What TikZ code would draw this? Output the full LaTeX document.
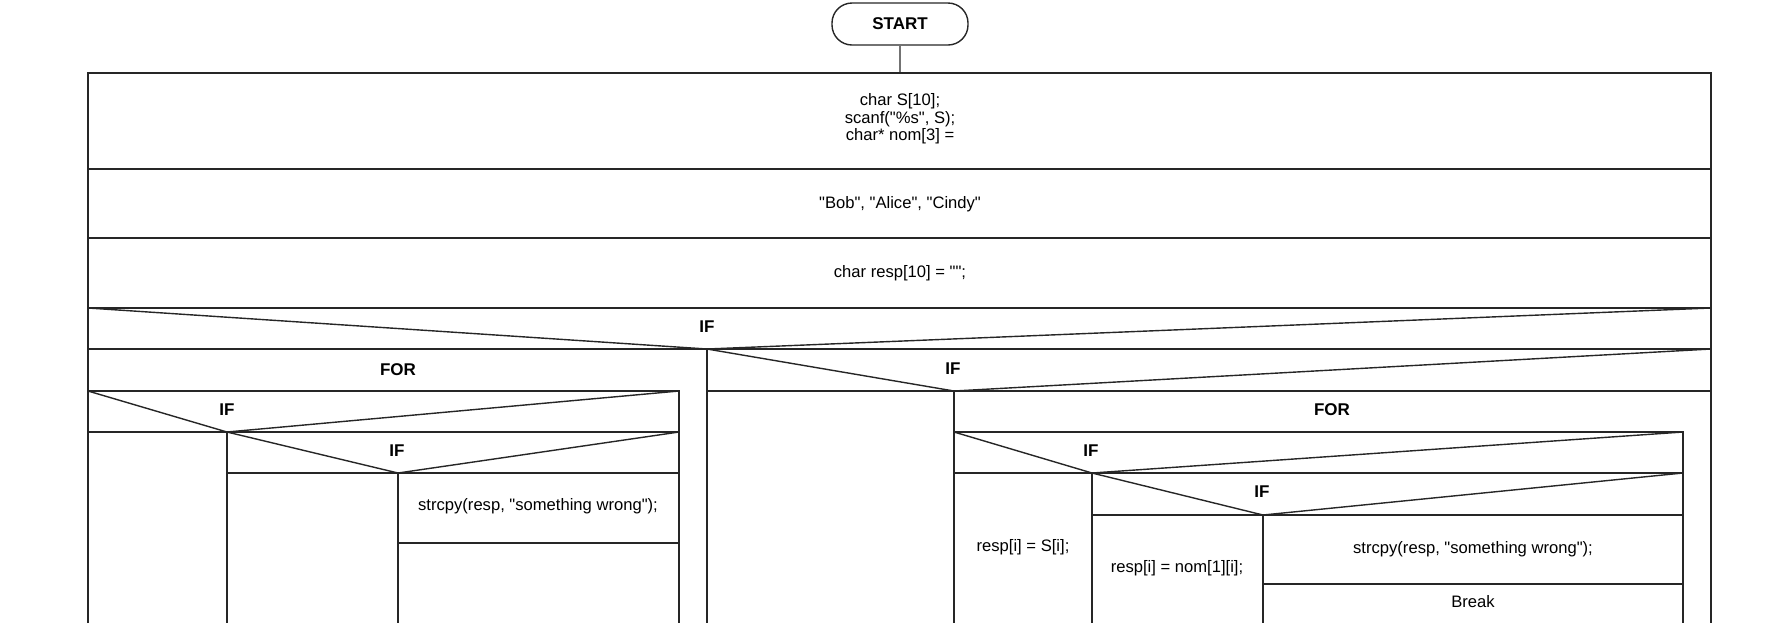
\documentclass[tikz,border=0pt]{standalone}
\usepackage{fontspec}
\setmainfont{Liberation Sans}[Ligatures=TeXOff]
\begin{document}
\begin{tikzpicture}[x=0.5pt, y=-0.5pt,
    nsline/.style={draw=black!85, line width=0.7pt},
    nstext/.style={font=\fontsize{8.3}{7.2}\selectfont, align=center, inner sep=0pt},
    nskey/.style={font=\fontsize{8.5}{10}\selectfont\bfseries, inner sep=0pt},
    startbox/.style={draw=black!85, line width=0.7pt, rounded corners=10pt,
      minimum width=68pt, minimum height=21pt, nskey}]
    \useasboundingbox (0,0) rectangle (1792,623);
    \node (start) [startbox] at (900,24) {START};
    \coordinate (frametop) at (900,73);
    \draw[line width=1pt, draw=black!55] (start) -- (frametop);
    % outer frame and sequence
    \draw[nsline] (88,623) -- (88,73) -- (1711,73) -- (1711,623);
    \foreach \y in {169,238,308,349}
      \draw[nsline] (88,\y) -- (1711,\y);
    \node (decl) [nstext] at (900,119) {char S[10];\\scanf("\%s", S);\\char* nom[3] =};
    \node (names) [nstext] at (900,204) {"Bob", "Alice", "Cindy"};
    \node (resp) [nstext] at (900,273) {char resp[10] = "";};
    % first IF
    \draw[nsline] (88,308) -- (707,349) -- (1711,308);
    \node (ifmain) [nskey] at (707,327) {IF};
    \draw[nsline] (707,349) -- (707,623);
    % left branch
    \node (forleft) [nskey] at (398,370) {FOR};
    \draw[nsline] (88,391) -- (679,391) -- (679,623);
    \draw[nsline] (88,391) -- (227,432) -- (679,391);
    \node (ifleft) [nskey] at (227,410) {IF};
    \draw[nsline] (88,432) -- (679,432);
    \draw[nsline] (227,432) -- (227,623);
    \draw[nsline] (227,432) -- (398,473) -- (679,432);
    \node (ifleftin) [nskey] at (397,451) {IF};
    \draw[nsline] (227,473) -- (679,473);
    \draw[nsline] (398,473) -- (398,623);
    \node (copyleft) [nstext] at (538,506) {strcpy(resp, "something wrong");};
    \draw[nsline] (398,543) -- (679,543);
    % right branch
    \draw[nsline] (707,349) -- (954,391) -- (1711,349);
    \node (ifright) [nskey] at (953,369) {IF};
    \draw[nsline] (707,391) -- (1711,391);
    \draw[nsline] (954,391) -- (954,623);
    \node (forright) [nskey] at (1332,410) {FOR};
    \draw[nsline] (954,432) -- (1683,432) -- (1683,623);
    \draw[nsline] (954,432) -- (1092,473) -- (1683,432);
    \node (ifrightin) [nskey] at (1091,451) {IF};
    \draw[nsline] (954,473) -- (1683,473);
    \draw[nsline] (1092,473) -- (1092,623);
    \node (copychar) [nstext] at (1023,547) {resp[i] = S[i];};
    \draw[nsline] (1092,473) -- (1263,515) -- (1683,473);
    \node (ifname) [nskey] at (1262,492) {IF};
    \draw[nsline] (1092,515) -- (1683,515);
    \draw[nsline] (1263,515) -- (1263,623);
    \node (copyname) [nstext] at (1177,568) {resp[i] = nom[1][i];};
    \node (copyright) [nstext] at (1473,549) {strcpy(resp, "something wrong");};
    \draw[nsline] (1263,584) -- (1683,584);
    \node (break) [nstext] at (1473,602) {Break};
\end{tikzpicture}
\end{document}
